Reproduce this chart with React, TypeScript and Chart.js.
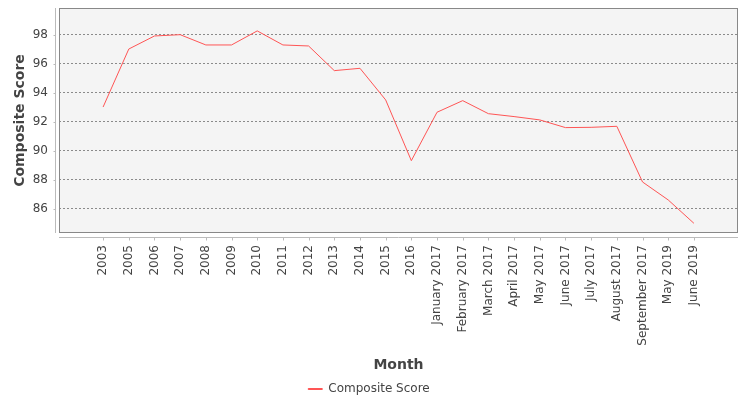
import React, { useEffect, useRef } from "react";
import { Chart, registerables } from "chart.js";

Chart.register(...registerables);

const months = [
  "2003", "2005", "2006", "2007", "2008", "2009", "2010", "2011", "2012", "2013",
  "2014", "2015", "2016", "January 2017", "February 2017", "March 2017", "April 2017",
  "May 2017", "June 2017", "July 2017", "August 2017", "September 2017", "May 2019", "June 2019",
];

const compositeScore = [
  93.03, 97.03, 97.93, 98.02, 97.31, 97.31, 98.28, 97.31, 97.24, 95.54,
  95.7, 93.52, 89.33, 92.67, 93.47, 92.57, 92.37, 92.14, 91.61, 91.63,
  91.7, 87.86, 86.62, 85.01,
];

const yTicks = [86, 88, 90, 92, 94, 96, 98];

const FONT = "'DejaVu Sans', sans-serif";

const decor = {
  id: "decor",
  beforeDraw(chart: any) {
    const { ctx, chartArea: a } = chart;
    ctx.save();
    ctx.fillStyle = "#f4f4f4";
    ctx.fillRect(a.left, a.top, a.right - a.left, a.bottom - a.top);
    ctx.restore();
  },
  afterDraw(chart: any) {
    const { ctx, chartArea: a } = chart;
    const xs = chart.scales.x;
    const ys = chart.scales.y;
    ctx.save();
    ctx.lineWidth = 1;
    ctx.strokeStyle = "#888888";
    ctx.strokeRect(a.left + 0.5, a.top + 0.5, a.right - a.left - 1, a.bottom - a.top - 1);
    ctx.strokeStyle = "#bbbbbb";
    ctx.beginPath();
    const ax = a.left - 3.5;
    ctx.moveTo(ax, a.top);
    ctx.lineTo(ax, a.bottom);
    yTicks.forEach((t) => {
      const py = Math.round(ys.getPixelForValue(t)) + 0.5;
      ctx.moveTo(ax - 2, py);
      ctx.lineTo(ax, py);
    });
    const ay = a.bottom + 4.5;
    ctx.moveTo(a.left, ay);
    ctx.lineTo(a.right, ay);
    months.forEach((_, i) => {
      const px = Math.round(xs.getPixelForValue(i)) + 0.5;
      ctx.moveTo(px, ay);
      ctx.lineTo(px, ay + 3);
    });
    ctx.stroke();
    ctx.restore();
  },
};

export default function App() {
  const ref = useRef<HTMLCanvasElement>(null);
  useEffect(() => {
    document.body.style.margin = "0";
    const chart = new Chart(ref.current!, {
      type: "line",
      data: {
        datasets: [
          {
            label: "Composite Score",
            data: compositeScore.map((v, i) => ({ x: i, y: v })),
            borderColor: "#ff5555",
            backgroundColor: "#ff5555",
            borderWidth: 1,
            pointRadius: 0,
            tension: 0,
          },
        ],
      },
      options: {
        animation: false,
        responsive: false,
        layout: { padding: { top: 8, right: 12, left: 0, bottom: -5 } },
        plugins: {
          tooltip: { enabled: false },
          legend: {
            position: "bottom",
            labels: {
              boxWidth: 14,
              boxHeight: 1,
              padding: 6,
              color: "#444444",
              font: { family: FONT, size: 12 },
            },
          },
        },
        scales: {
          x: {
            type: "linear",
            min: -1.717,
            max: 24.717,
            afterBuildTicks: (s: any) => {
              s.ticks = months.map((_, i) => ({ value: i }));
            },
            afterFit: (s: any) => {
              s.height = 144;
            },
            grid: { display: false, drawTicks: false },
            border: { display: false },
            ticks: {
              autoSkip: false,
              minRotation: 90,
              maxRotation: 90,
              padding: 12,
              color: "#444444",
              font: { family: FONT, size: 12 },
              callback: (v: any) => months[v] ?? "",
            },
            title: {
              display: true,
              text: "Month",
              color: "#444444",
              font: { family: FONT, size: 14, weight: "bold" },
              padding: { top: 0, bottom: 3 },
            },
          },
          y: {
            min: 84.34,
            max: 99.86,
            afterFit: (s: any) => {
              s.width = 59;
              s.paddingTop = 0;
              s.paddingBottom = 0;
            },
            grid: { color: "#8a8a8a", drawTicks: false },
            border: { display: false, dash: [2, 2] },
            ticks: {
              stepSize: 2,
              includeBounds: false,
              padding: 11,
              color: "#444444",
              font: { family: FONT, size: 12 },
            },
            title: {
              display: true,
              text: "Composite Score",
              color: "#444444",
              font: { family: FONT, size: 14, weight: "bold" },
              padding: { top: 12, bottom: 0 },
            },
          },
        },
      },
      plugins: [decor],
    });
    return () => chart.destroy();
  }, []);
  return (
    <div style={{ position: "absolute", left: 0, top: 0, width: 750, height: 400 }}>
      <canvas ref={ref} width={750} height={400} style={{ width: 750, height: 400 }} />
    </div>
  );
}
